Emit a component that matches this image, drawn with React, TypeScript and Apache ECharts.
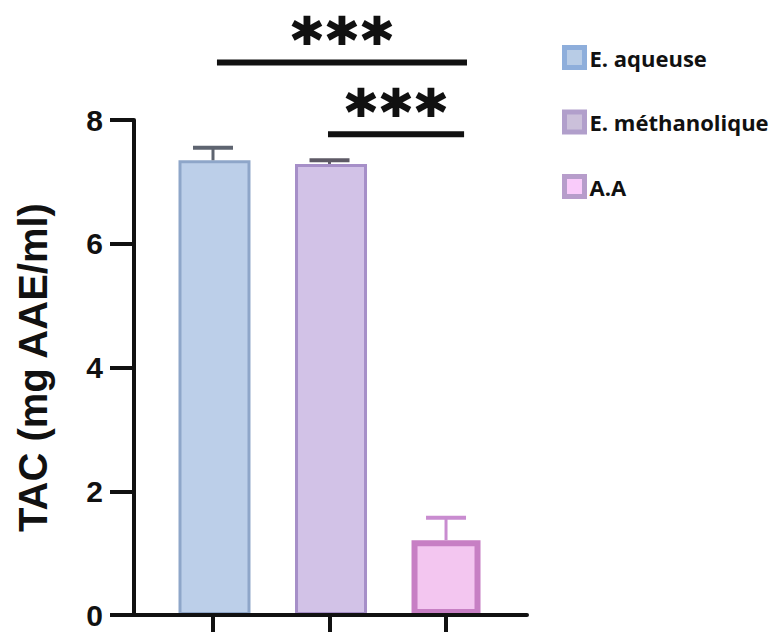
import React, { useEffect, useRef } from "react";
import * as echarts from "echarts";

// ---- data ----
const categories = ["E. aqueuse", "E. méthanolique", "A.A"];
const positions = [1, 2, 3];
const means = [7.35, 7.29, 1.21];
const errors = [0.2, 0.06, 0.36];
const yTickMin = 0;
const yTickMax = 8;
const yTickStep = 2;
// significance brackets: [from position, to position, height in y units]
const bracketFrom = [1.034, 1.987];
const bracketTo = [3.18, 3.155];
const bracketY = [8.93, 7.77];
const bracketStars = [3, 3];

// ---- styles ----
const fills = ["#bccfe9", "#d2c2e7", "#f3c6f0"];
const borders = ["#8ea6c9", "#a68fc8", "#c77fc4"];
const borderWidths = [3, 3, 6];
const errColors = ["#5e6470", "#5e5a66", "#c98cd0"];
const legendBorders = ["#8eaedb", "#b19fcb", "#b79dcb"];
const legendFills = ["#b8cce6", "#cbc0da", "#f9cbfa"];

export default function App() {
  const ref = useRef<HTMLDivElement>(null);
  useEffect(() => {
    if (!ref.current) return;
    const chart = echarts.init(ref.current, null, { renderer: "svg" });
    const barSeries = categories.map((name, i) => ({
      name,
      type: "bar",
      data: [[positions[i], means[i]]],
      barWidth: 75 - borderWidths[i],
      barGap: "-100%",
      itemStyle: {
        color: fills[i],
        borderColor: borders[i],
        borderWidth: borderWidths[i],
      },
      z: 2,
    }));
    const errSeries = {
      type: "custom",
      name: "err",
      data: positions.map((p, i) => [p, means[i], errors[i]]),
      z: 3,
      renderItem: (params: any, api: any) => {
        const x = api.value(0);
        const y = api.value(1);
        const e = api.value(2);
        const base = api.coord([x, y]);
        const top = api.coord([x, y + e]);
        const c = errColors[params.dataIndex];
        const half = 20;
        return {
          type: "group",
          children: [
            {
              type: "line",
              shape: { x1: base[0], y1: base[1], x2: top[0], y2: top[1] },
              style: { stroke: c, lineWidth: 3 },
            },
            {
              type: "line",
              shape: { x1: top[0] - half, y1: top[1], x2: top[0] + half, y2: top[1] },
              style: { stroke: c, lineWidth: 4 },
            },
          ],
        };
      },
    };
    chart.setOption({
      animation: false,
      backgroundColor: "#ffffff",
      grid: { left: 134, right: 244, top: 120, bottom: 17, containLabel: false },
      legend: {
        orient: "vertical",
        left: 562,
        top: 45,
        padding: 0,
        itemWidth: 20,
        itemHeight: 20,
        itemGap: 39.5,
        icon: "rect",
        textStyle: {
          fontFamily: "Open Sans",
          fontWeight: "bold",
          fontSize: 22,
          lineHeight: 20,
          color: "#111",
        },
        data: categories.map((name, i) => ({
          name,
          itemStyle: {
            color: legendFills[i],
            borderColor: legendBorders[i],
            borderWidth: 5,
          },
        })),
      },
      xAxis: {
        type: "value",
        min: 0.322,
        max: 3.695,
        z: 10,
        axisLine: { show: true, onZero: false, lineStyle: { color: "#111", width: 4 } },
        axisTick: {
          show: true,
          customValues: positions,
          length: 20,
          lineStyle: { color: "#111", width: 4 },
        },
        axisLabel: { show: false },
        splitLine: { show: false },
      },
      yAxis: {
        type: "value",
        min: yTickMin,
        max: yTickMax,
        interval: yTickStep,
        z: 10,
        name: "TAC (mg AAE/ml)",
        nameLocation: "middle",
        nameGap: 81,
        nameTextStyle: {
          fontFamily: "Liberation Sans",
          fontWeight: "bold",
          fontSize: 40,
          color: "#111",
        },
        axisLine: { show: true, onZero: false, lineStyle: { color: "#111", width: 4 } },
        axisTick: { show: true, length: 24, lineStyle: { color: "#111", width: 4 } },
        axisLabel: {
          margin: 31,
          fontFamily: "Liberation Sans",
          fontWeight: "bold",
          fontSize: 30,
          color: "#111",
        },
        splitLine: { show: false },
      },
      series: [...barSeries, errSeries],
    });
    const graphics: any[] = [];
    bracketFrom.forEach((f, i) => {
      const p1 = chart.convertToPixel({ gridIndex: 0 }, [f, bracketY[i]]) as number[];
      const p2 = chart.convertToPixel({ gridIndex: 0 }, [bracketTo[i], bracketY[i]]) as number[];
      graphics.push({
        type: "line",
        shape: { x1: p1[0], y1: p1[1], x2: p2[0], y2: p2[1] },
        style: { stroke: "#111", lineWidth: 6 },
        z: 20,
      });
      const cx = (p1[0] + p2[0]) / 2;
      for (let k = 0; k < bracketStars[i]; k++) {
        graphics.push({
          type: "text",
          x: cx + (k - (bracketStars[i] - 1) / 2) * 35,
          y: p1[1] - 22,
          z: 20,
          style: {
            text: "*",
            fontFamily: "DejaVu Sans",
            fontWeight: "bold",
            fontSize: 58,
            fill: "#111",
            stroke: "#111",
            lineWidth: 2,
            align: "center",
            verticalAlign: "middle",
          },
        });
      }
    });
    chart.setOption({ graphic: graphics });
    return () => chart.dispose();
  }, []);
  return (
    <div
      ref={ref}
      style={{ position: "fixed", left: 0, top: 0, width: 771, height: 632, background: "#fff" }}
    />
  );
}
